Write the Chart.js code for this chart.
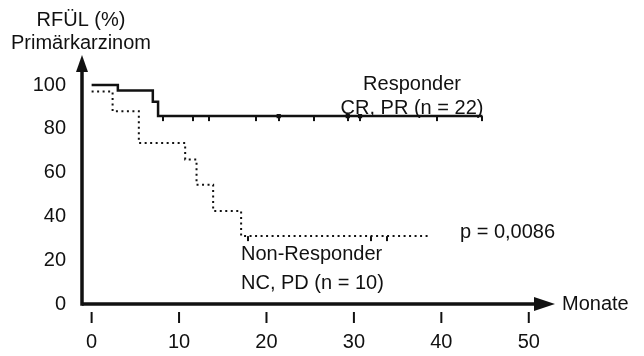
<!DOCTYPE html>
<html>
<head>
<meta charset="utf-8">
<script src="https://cdn.jsdelivr.net/npm/chart.js@4.4.0/dist/chart.umd.min.js"></script>
<style>
  html, body { margin: 0; padding: 0; background: #fff; }
  #wrap { width: 644px; height: 356px; }
</style>
</head>
<body>
<div id="wrap"><canvas id="graph-canvas" width="644" height="356"></canvas></div>
<script>
// axis ticks
let xTicks = [0, 10, 20, 30, 40, 50];
let yTicks = [0, 20, 40, 60, 80, 100];

// Responder CR, PR (n = 22): months / RFÜL %
let respTimes = [0, 3.0, 7.0, 7.6, 44.7];
let respValues = [100, 97.5, 92.4, 85.8, 85.8];
let respCensor = [8.2, 11.6, 13.4, 18.8, 21.4, 25.4, 29.3, 30.7, 39.5, 44.7];
let respCluster = [21.4, 29.3, 30.7];

// Non-Responder NC, PD (n = 10)
let nonTimes = [0, 2.4, 5.4, 10.7, 12.0, 13.9, 17.1, 38.5];
let nonValues = [97, 88, 73.5, 66, 54.5, 42.5, 31, 31];
let nonCensor = [17.9, 32.0, 33.8];

let FONT = '"Liberation Sans", Arial, sans-serif';
let INK = '#111';

function levelAt(times, values, t) {
  let v = values[0];
  for (let i = 0; i < times.length; i++) {
    if (times[i] <= t) v = values[i];
  }
  return v;
}

function pts(times, values) {
  return times.map((t, i) => ({ x: t, y: values[i] }));
}

function censorPts(times, values, list) {
  return list.map(t => ({ x: t, y: levelAt(times, values, t) }));
}

// small tick hanging below the curve
let hang = document.createElement('canvas');
hang.width = 2;
hang.height = 12;
let hctx = hang.getContext('2d');
hctx.fillStyle = INK;
hctx.fillRect(0, 6, 2, 5);

let notes = [
  { text: 'RFÜL (%)', x: 81, y: 20, align: 'center' },
  { text: 'Primärkarzinom', x: 81, y: 43, align: 'center' },
  { text: 'Responder', x: 412, y: 84, align: 'center' },
  { text: 'CR, PR (n = 22)', x: 412, y: 108, align: 'center' },
  { text: 'p = 0,0086', x: 460, y: 232, align: 'left' },
  { text: 'Non-Responder', x: 241, y: 254, align: 'left' },
  { text: 'NC, PD (n = 10)', x: 241, y: 283, align: 'left' },
  { text: 'Monate', x: 562, y: 304, align: 'left' }
];

let axesPlugin = {
  id: 'axes',
  afterDraw(chart) {
    let ctx = chart.ctx;
    let a = chart.chartArea;
    let xs = chart.scales.x;
    ctx.save();
    ctx.strokeStyle = INK;
    ctx.fillStyle = INK;
    ctx.lineWidth = 3.5;
    ctx.lineCap = 'butt';
    // y axis with arrow
    ctx.beginPath();
    ctx.moveTo(a.left, a.bottom + 1.75);
    ctx.lineTo(a.left, 70);
    ctx.stroke();
    ctx.beginPath();
    ctx.moveTo(a.left, 55);
    ctx.lineTo(a.left - 6, 72);
    ctx.lineTo(a.left + 6, 72);
    ctx.closePath();
    ctx.fill();
    // x axis with arrow
    ctx.beginPath();
    ctx.moveTo(a.left, a.bottom);
    ctx.lineTo(a.right - 18, a.bottom);
    ctx.stroke();
    ctx.beginPath();
    ctx.moveTo(a.right, a.bottom);
    ctx.lineTo(a.right - 21, a.bottom - 7);
    ctx.lineTo(a.right - 21, a.bottom + 7);
    ctx.closePath();
    ctx.fill();
    // x tick marks, detached below the axis
    ctx.lineWidth = 2;
    xTicks.forEach(v => {
      let px = xs.getPixelForValue(v);
      ctx.beginPath();
      ctx.moveTo(px, a.bottom + 8);
      ctx.lineTo(px, a.bottom + 19);
      ctx.stroke();
    });
    // texts
    ctx.font = '20px ' + FONT;
    ctx.textBaseline = 'middle';
    notes.forEach(n => {
      ctx.textAlign = n.align;
      ctx.fillText(n.text, n.x, n.y);
    });
    ctx.restore();
  }
};

function showGraph() {
  let graphTarget = document.getElementById('graph-canvas');
  new Chart(graphTarget, {
    type: 'line',
    data: {
      datasets: [
        {
          label: 'Responder',
          data: pts(respTimes, respValues),
          stepped: true,
          borderColor: INK,
          borderWidth: 2.5,
          pointRadius: 0,
          fill: false,
          clip: false
        },
        {
          label: 'Non-Responder',
          data: pts(nonTimes, nonValues),
          stepped: true,
          borderColor: INK,
          borderWidth: 2,
          borderDash: [2, 3.5],
          pointRadius: 0,
          fill: false,
          clip: false
        },
        {
          type: 'scatter',
          data: censorPts(respTimes, respValues, respCensor),
          pointStyle: hang,
          clip: false
        },
        {
          type: 'scatter',
          data: censorPts(respTimes, respValues, respCluster),
          pointStyle: 'rect',
          pointRadius: 3,
          backgroundColor: INK,
          borderColor: INK,
          borderWidth: 0,
          clip: false
        },
        {
          type: 'scatter',
          data: censorPts(nonTimes, nonValues, nonCensor),
          pointStyle: hang,
          clip: false
        }
      ]
    },
    options: {
      responsive: false,
      animation: false,
      layout: { padding: { top: 85, right: 89, left: 0, bottom: 0 } },
      plugins: {
        legend: { display: false },
        tooltip: { enabled: false }
      },
      scales: {
        x: {
          type: 'linear',
          min: -1.1,
          max: 53,
          grid: { display: false, drawTicks: false },
          border: { display: false },
          afterBuildTicks: s => { s.ticks = xTicks.map(v => ({ value: v })); },
          afterFit: s => { s.height = 52; },
          ticks: {
            font: { size: 20, family: FONT },
            color: INK,
            padding: 26,
            maxRotation: 0,
            autoSkip: false
          }
        },
        y: {
          min: 0,
          max: 100,
          grid: { display: false, drawTicks: false },
          border: { display: false },
          afterBuildTicks: s => { s.ticks = yTicks.map(v => ({ value: v })); },
          afterFit: s => { s.width = 82; },
          ticks: {
            font: { size: 20, family: FONT },
            color: INK,
            padding: 16
          }
        }
      }
    },
    plugins: [axesPlugin]
  });
}

showGraph();
</script>
</body>
</html>
